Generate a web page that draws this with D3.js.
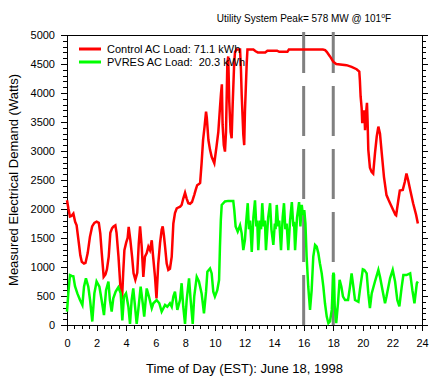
<!DOCTYPE html>
<html>
<head>
<meta charset="utf-8">
<script src="https://cdn.jsdelivr.net/npm/d3@7"></script>
<style>
  body { margin: 0; background: #fff; }
  svg { display: block; font-family: "Liberation Sans", Arial, sans-serif; }
</style>
</head>
<body>
<svg width="445" height="389"></svg>
<script>
// chart values: [hour, watts]
var xTicks = [0, 2, 4, 6, 8, 10, 12, 14, 16, 18, 20, 22, 24];
var yTicks = [0, 500, 1000, 1500, 2000, 2500, 3000, 3500, 4000, 4500, 5000];
var peakHours = [16, 18];   // utility peak window
var seriesNames = ["Control AC Load: 71.1 kWh", "PVRES AC Load:  20.3 kWh"];

var control = [
  [0.0, 2150], [0.1, 2000], [0.2, 1870], [0.3, 1880], [0.43, 1920], [0.55, 1780], [0.65, 1720],
  [0.8, 1410], [0.9, 1200], [1.0, 1090], [1.15, 1060], [1.25, 1070], [1.4, 1240], [1.55, 1520],
  [1.7, 1700], [1.85, 1760], [2.0, 1780], [2.15, 1760], [2.25, 1580], [2.35, 1240], [2.48, 830],
  [2.6, 870], [2.7, 960], [2.82, 1180], [2.93, 1590], [3.05, 1670], [3.15, 1700], [3.27, 1720],
  [3.35, 1590], [3.48, 1180], [3.6, 700], [3.72, 440], [3.8, 900], [3.88, 1290], [4.0, 1420],
  [4.1, 1500], [4.17, 1690], [4.28, 1470], [4.4, 1180], [4.5, 890], [4.62, 780], [4.75, 900],
  [4.85, 1400], [4.94, 1700], [5.05, 1350], [5.16, 830], [5.27, 1180], [5.39, 1240], [5.5, 1350],
  [5.61, 1290], [5.73, 1460], [5.8, 1240], [5.95, 830], [6.05, 460], [6.17, 1060], [6.29, 1410],
  [6.4, 1640], [6.47, 1700], [6.55, 1550], [6.63, 1350], [6.74, 1060], [6.85, 950], [6.96, 970],
  [7.08, 1180], [7.19, 1750], [7.3, 1930], [7.42, 2010], [7.55, 2030], [7.65, 2040], [7.75, 2070],
  [7.86, 2180], [7.98, 2280], [8.09, 2180], [8.2, 2100], [8.32, 2090], [8.45, 2120], [8.6, 2240],
  [8.7, 2330], [8.8, 2410], [8.92, 2430], [9.0, 2450], [9.1, 2790], [9.2, 3190], [9.3, 3420],
  [9.4, 3680], [9.45, 3580], [9.56, 3190], [9.67, 3020], [9.78, 2900], [9.96, 2790], [10.12, 3100],
  [10.23, 3330], [10.34, 3740], [10.41, 3990], [10.47, 4150], [10.52, 3450], [10.6, 3100],
  [10.68, 2990], [10.75, 3330], [10.84, 4510], [10.9, 4630], [10.97, 3850], [11.06, 3330],
  [11.13, 3220], [11.2, 3800], [11.3, 4500], [11.36, 4710], [11.47, 4750], [11.7, 4750],
  [11.76, 4400], [11.81, 3970], [11.92, 3280], [11.98, 3100], [12.03, 3680], [12.15, 4510],
  [12.2, 4750], [12.6, 4750], [12.75, 4720], [12.9, 4700], [13.4, 4700], [13.55, 4730],
  [14.2, 4730], [14.35, 4710], [14.9, 4710], [15.0, 4750], [17.3, 4750], [17.45, 4740],
  [17.56, 4710], [17.78, 4630], [18.0, 4540], [18.2, 4500], [18.9, 4480], [19.24, 4450],
  [19.58, 4410], [19.76, 4370], [19.8, 4220], [19.85, 3940], [19.92, 3740], [19.96, 3480],
  [20.03, 3590], [20.1, 3700], [20.15, 3360], [20.2, 3600], [20.28, 3830], [20.32, 3530],
  [20.37, 3020], [20.48, 2710], [20.59, 2640], [20.7, 2610], [20.82, 2960], [20.94, 3250],
  [21.05, 3420], [21.16, 3300], [21.28, 2960], [21.43, 2550], [21.6, 2240], [21.75, 2150],
  [21.84, 2100], [22.06, 1980], [22.2, 1900], [22.25, 1890], [22.4, 2150], [22.5, 2320],
  [22.7, 2330], [22.84, 2470], [22.95, 2610], [23.06, 2500], [23.2, 2330], [23.4, 2100],
  [23.6, 1900], [23.72, 1750]
];

var pvres = [
  [0.0, 230], [0.09, 550], [0.2, 860], [0.32, 845], [0.43, 840], [0.54, 670], [0.7, 545],
  [0.88, 430], [1.04, 345], [1.15, 660], [1.28, 805], [1.44, 660], [1.56, 430], [1.71, 60],
  [1.85, 545], [2.0, 750], [2.19, 660], [2.34, 430], [2.5, 170], [2.64, 600], [2.8, 750],
  [2.9, 430], [3.02, 230], [3.13, 460], [3.29, 575], [3.47, 650], [3.63, 545], [3.74, 80],
  [3.85, 490], [3.99, 545], [4.15, 315], [4.26, 20], [4.37, 430], [4.48, 630], [4.6, 315],
  [4.71, 20], [4.82, 260], [4.98, 660], [5.12, 375], [5.22, 145], [5.39, 630], [5.54, 490],
  [5.73, 290], [5.84, 375], [6.06, 430], [6.24, 375], [6.4, 230], [6.63, 345], [6.78, 315],
  [6.96, 375], [7.08, 315], [7.19, 490], [7.3, 575], [7.46, 260], [7.64, 430], [7.75, 720],
  [7.86, 315], [7.98, 20], [8.09, 430], [8.25, 805], [8.36, 430], [8.5, 20], [8.6, 490],
  [8.77, 830], [8.92, 750], [9.1, 545], [9.26, 200], [9.4, 575], [9.49, 920], [9.67, 975],
  [9.78, 890], [9.89, 575], [10.0, 490], [10.16, 600], [10.28, 775], [10.34, 1350], [10.4, 1810],
  [10.46, 2070], [10.68, 2130], [10.9, 2140], [11.24, 2140], [11.31, 1980], [11.4, 1700],
  [11.54, 1610], [11.7, 1720], [11.81, 1580], [11.92, 1290], [12.03, 1470], [12.12, 1800],
  [12.22, 2100], [12.3, 1650], [12.38, 1800], [12.49, 1260], [12.6, 1850], [12.71, 2150],
  [12.8, 1700], [12.86, 1800], [12.93, 1290], [13.05, 1800], [13.12, 1650], [13.2, 2100],
  [13.3, 1700], [13.38, 1800], [13.45, 1290], [13.6, 1850], [13.73, 2100], [13.82, 1650],
  [13.95, 1380], [14.05, 1750], [14.1, 1650], [14.18, 2070], [14.28, 1700], [14.35, 1800],
  [14.47, 1290], [14.58, 1850], [14.67, 2100], [14.76, 1650], [14.85, 1750], [14.96, 1290],
  [15.08, 1800], [15.2, 2120], [15.3, 1700], [15.35, 1780], [15.42, 1290], [15.55, 1850],
  [15.69, 2120], [15.78, 1700], [15.87, 2070], [15.95, 1900], [16.04, 1980], [16.12, 1750],
  [16.2, 1180], [16.31, 660], [16.43, 260], [16.54, 600], [16.65, 1180], [16.77, 1380],
  [16.88, 1350], [16.99, 1240], [17.1, 1060], [17.22, 890], [17.33, 660], [17.44, 375],
  [17.56, 145], [17.67, 30], [17.78, 60], [17.9, 260], [18.0, 900], [18.05, 870], [18.1, 320],
  [18.2, 30], [18.32, 375], [18.43, 780], [18.55, 660], [18.66, 490], [18.8, 430], [19.0, 430],
  [19.13, 660], [19.24, 890], [19.36, 660], [19.47, 430], [19.7, 400], [19.8, 600], [20.0, 960],
  [20.1, 950], [20.26, 890], [20.37, 545], [20.48, 290], [20.6, 545], [20.82, 750], [21.05, 950],
  [21.16, 830], [21.35, 575], [21.5, 375], [21.6, 490], [21.84, 805], [22.02, 950], [22.18, 750],
  [22.33, 430], [22.47, 320], [22.63, 660], [22.74, 860], [22.95, 860], [23.2, 890], [23.35, 600],
  [23.49, 375], [23.65, 720], [23.72, 750]
];

// layout (plot box in pixels)
var svg = d3.select("svg"),
    plotL = 67, plotR = 422, plotT = 35, plotB = 325;

var x = d3.scaleLinear().domain([0, 24]).range([plotL, plotR]);
var y = d3.scaleLinear().domain([0, 5000]).range([plotB, plotT]);

svg.append("rect").attr("width", 445).attr("height", 389).attr("fill", "#fff");

// ---- axes (major + minor ticks) ----
function styleAxis(g) {
  g.select(".domain").remove();
  g.selectAll("line").attr("stroke", "#000").attr("shape-rendering", "crispEdges");
  g.selectAll("text").attr("fill", "#000").style("font-size", "11px");
}

svg.append("g").attr("transform", "translate(0," + plotB + ")")
  .call(d3.axisBottom(x).tickValues(d3.range(0, 24.01, 0.5)).tickSize(4).tickFormat(""))
  .call(styleAxis);
svg.append("g").attr("transform", "translate(0," + plotB + ")")
  .call(d3.axisBottom(x).tickValues(xTicks).tickSize(6).tickPadding(8).tickFormat(d3.format("d")))
  .call(styleAxis);

svg.append("g").attr("transform", "translate(" + plotL + ",0)")
  .call(d3.axisLeft(y).tickValues(d3.range(0, 5001, 100)).tickSize(4).tickFormat(""))
  .call(styleAxis);
svg.append("g").attr("transform", "translate(" + plotL + ",0)")
  .call(d3.axisLeft(y).tickValues(yTicks).tickSize(6).tickPadding(6).tickFormat(d3.format("d")))
  .call(styleAxis);

// right side: ticks only
svg.append("g").attr("transform", "translate(" + plotR + ",0)")
  .call(d3.axisRight(y).tickValues(d3.range(0, 5001, 100)).tickSize(4).tickFormat(""))
  .call(styleAxis);
svg.append("g").attr("transform", "translate(" + plotR + ",0)")
  .call(d3.axisRight(y).tickValues(yTicks).tickSize(6).tickFormat(""))
  .call(styleAxis);

// frame
svg.append("rect")
  .attr("x", plotL + 0.5).attr("y", plotT + 0.5)
  .attr("width", plotR - plotL).attr("height", plotB - plotT)
  .attr("fill", "none").attr("stroke", "#000").attr("shape-rendering", "crispEdges");

// ---- peak window markers (dashed gray) ----
svg.selectAll(".peak")
  .data(peakHours)
  .enter().append("line")
    .attr("class", "peak")
    .attr("x1", function(d) { return x(d); })
    .attr("x2", function(d) { return x(d); })
    .attr("y1", y(0))
    .attr("y2", plotT - 3)
    .attr("stroke", "#808080")
    .attr("stroke-width", 3)
    .attr("stroke-dasharray", "50,13");

// ---- load lines ----
var line = d3.line()
  .x(function(d) { return x(d[0]); })
  .y(function(d) { return y(d[1]); });

svg.append("path").datum(control)
  .attr("d", line).attr("fill", "none")
  .attr("stroke", "#ff0000").attr("stroke-width", 2.5);

svg.append("path").datum(pvres)
  .attr("d", line).attr("fill", "none")
  .attr("stroke", "#00ff00").attr("stroke-width", 2.5);

// ---- legend ----
var legendColors = ["#ff0000", "#00ff00"];
var legend = svg.selectAll(".leg")
  .data(seriesNames)
  .enter().append("g")
    .attr("class", "leg")
    .attr("transform", function(d, i) { return "translate(79," + (49 + i * 13) + ")"; });

legend.append("line")
  .attr("x1", 0).attr("x2", 22)
  .attr("stroke", function(d, i) { return legendColors[i]; })
  .attr("stroke-width", 3);

legend.append("text")
  .attr("x", 28).attr("dy", "0.35em")
  .style("font-size", "11px")
  .style("white-space", "pre")
  .text(function(d) { return d; });

// ---- titles ----
var title = svg.append("text")
  .attr("x", 304).attr("y", 22)
  .attr("text-anchor", "middle")
  .style("font-size", "10px");
title.append("tspan").text("Utility System Peak= 578 MW @ 101");
title.append("tspan").attr("dy", -4).style("font-size", "7px").text("o");
title.append("tspan").attr("dy", 4).text("F");

svg.append("text")
  .attr("x", (plotL + plotR) / 2).attr("y", 373)
  .attr("text-anchor", "middle")
  .style("font-size", "13px")
  .text("Time of Day (EST): June 18, 1998");

svg.append("text")
  .attr("transform", "translate(18," + ((plotT + plotB) / 2) + ") rotate(-90)")
  .attr("text-anchor", "middle")
  .style("font-size", "13px")
  .text("Measured Electrical Demand (Watts)");
</script>
</body>
</html>
